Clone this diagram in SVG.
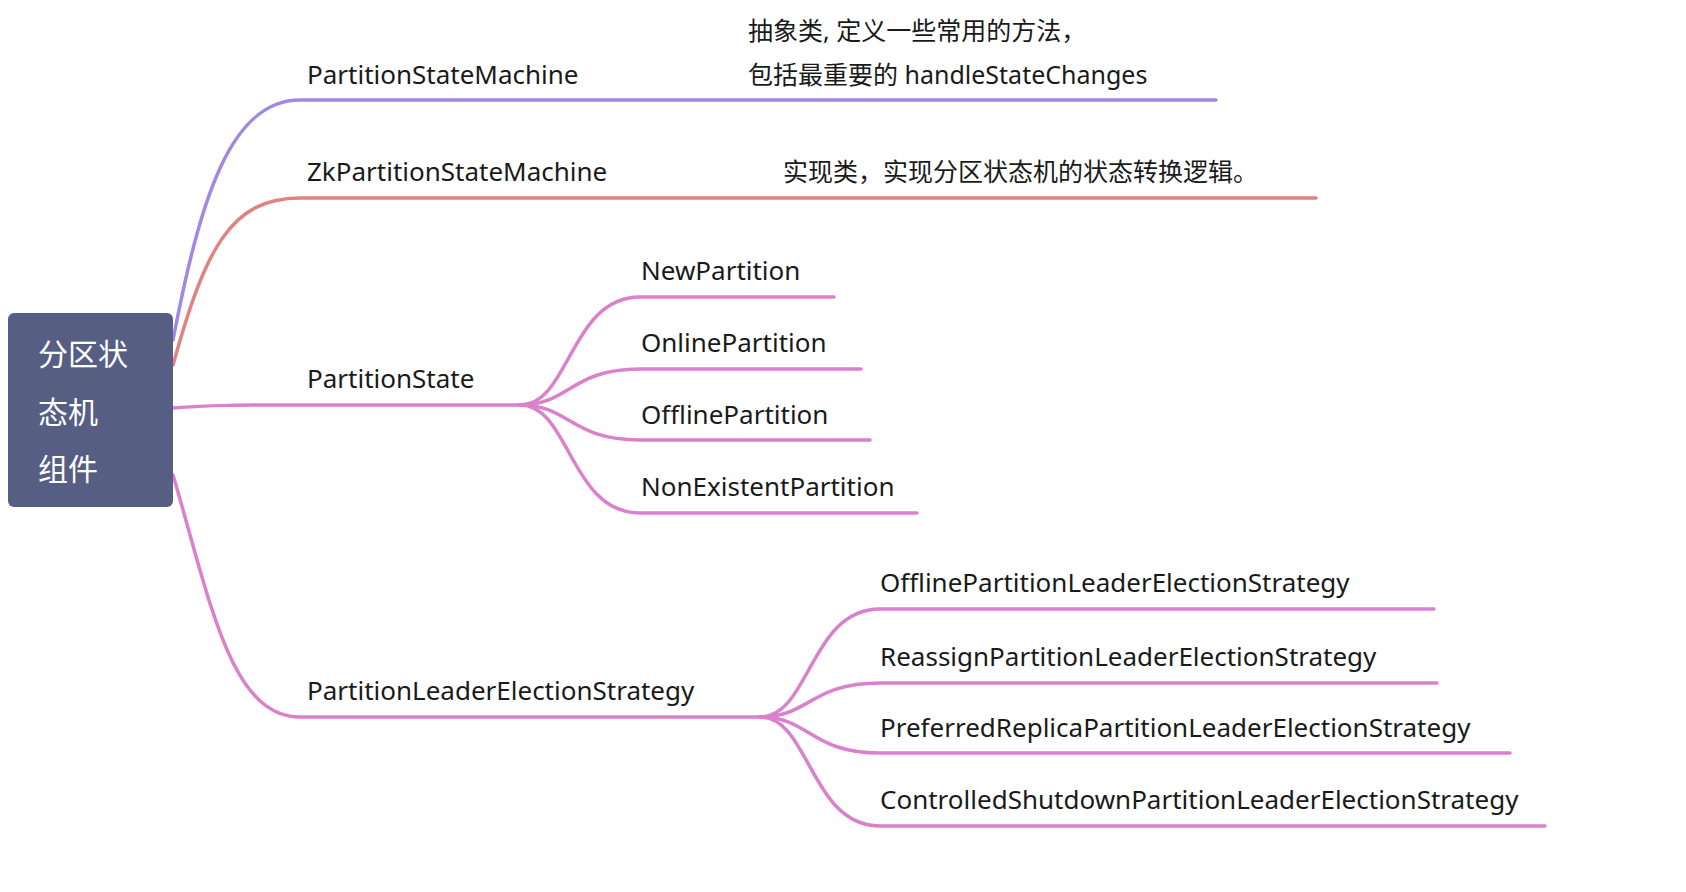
<svg xmlns="http://www.w3.org/2000/svg" width="1686" height="892" viewBox="0 0 1686 892">
<style>
text{font-family:"Noto Sans","Noto Sans CJK SC",sans-serif;font-size:26px;fill:#1a1a1a}
.z{font-size:25px}
.r{fill:#fff;font-size:30px;font-family:"Noto Sans CJK SC",sans-serif}
.c path{fill:none;stroke-width:3.5;stroke-linecap:round}
.p{stroke:#a288e0}.d{stroke:#e0837f}.k{stroke:#da80cc}
</style>
<rect width="1686" height="892" fill="#fff"/>
<g class="c" id="connectors">
<path class="p" d="M173,340 C200,200 230,100 300,100 H1216"/>
<path class="d" d="M173,365 C205,250 230,198 300,198 H1316"/>
<path class="k" d="M173,408 C210,405 240,405 300,405 H520"/>
<path class="k" d="M173,475 C210,600 230,717 300,717 H760"/>
<path class="k" d="M520,405 C570,405 570,297 640,297 H834"/>
<path class="k" d="M520,405 C570,405 570,369 640,369 H861"/>
<path class="k" d="M520,405 C570,405 570,440 640,440 H870"/>
<path class="k" d="M520,405 C570,405 570,513 640,513 H917"/>
<path class="k" d="M760,717 C810,717 810,609 880,609 H1434"/>
<path class="k" d="M760,717 C810,717 810,683 880,683 H1437"/>
<path class="k" d="M760,717 C810,717 810,753 880,753 H1510"/>
<path class="k" d="M760,717 C810,717 810,826 880,826 H1545"/>
</g>
<g id="root"><rect x="8" y="313" width="165" height="194" rx="6" fill="#575e83"/>
<text class="r" x="38" y="365">分区状</text><text class="r" x="38" y="423">态机</text><text class="r" x="38" y="480">组件</text></g>
<g id="n1"><text x="307" y="84">PartitionStateMachine</text></g>
<g id="note1"><text class="z" x="748" y="40">抽象类, 定义一些常用的方法，</text><text class="z" x="748" y="84">包括最重要的 handleStateChanges</text></g>
<g id="n2"><text x="307" y="181">ZkPartitionStateMachine</text></g>
<g id="note2"><text class="z" x="783" y="181">实现类，实现分区状态机的状态转换逻辑。</text></g>
<g id="n3"><text x="307" y="388">PartitionState</text></g>
<g id="n31"><text x="641" y="280">NewPartition</text></g>
<g id="n32"><text x="641" y="352">OnlinePartition</text></g>
<g id="n33"><text x="641" y="424">OfflinePartition</text></g>
<g id="n34"><text x="641" y="496">NonExistentPartition</text></g>
<g id="n4"><text x="307" y="700">PartitionLeaderElectionStrategy</text></g>
<g id="n41"><text x="880" y="592">OfflinePartitionLeaderElectionStrategy</text></g>
<g id="n42"><text x="880" y="666">ReassignPartitionLeaderElectionStrategy</text></g>
<g id="n43"><text x="880" y="737">PreferredReplicaPartitionLeaderElectionStrategy</text></g>
<g id="n44"><text x="880" y="809">ControlledShutdownPartitionLeaderElectionStrategy</text></g>
</svg>
